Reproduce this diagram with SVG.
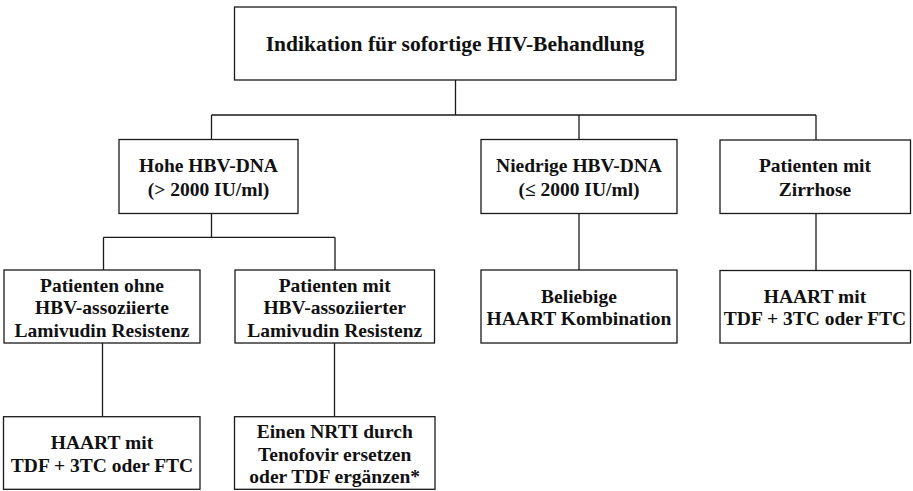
<svg xmlns="http://www.w3.org/2000/svg" width="913" height="491" viewBox="0 0 913 491">
  <style>
    .box { fill: #ffffff; stroke: #1a1a1a; stroke-width: 1.3; }
    .link { fill: none; stroke: #1a1a1a; stroke-width: 1.3; }
    .lbl { font-family: "Liberation Serif", "Times New Roman", serif; font-weight: bold; font-size: 19.5px; fill: #111111; text-anchor: middle; }
    .title { font-size: 21.5px; }
  </style>
  <rect width="913" height="491" fill="#ffffff"/>

  <!-- connectors -->
  <g id="connectors">
    <path class="link" d="M455.5,80 V115 M211.5,115 H816 M211.5,115 V139.5 M579,115 V139.5 M816,115 V140"/>
    <path class="link" d="M211.5,213.5 V237.3 M103.5,237.3 H335 M103.5,237.3 V270 M335,237.3 V270"/>
    <path class="link" d="M579,213.5 V270 M816,213.5 V270"/>
    <path class="link" d="M102.5,343 V416.7 M334.5,343 V416.7"/>
  </g>

  <!-- root -->
  <g id="root">
    <rect class="box" x="234.5" y="7" width="441.5" height="73"/>
    <text class="lbl title" x="455" y="51">Indikation für sofortige HIV-Behandlung</text>
  </g>

  <!-- second level -->
  <g id="high-dna">
    <rect class="box" x="119" y="139.5" width="179" height="74"/>
    <text class="lbl" x="208.5" y="171.5">Hohe HBV-DNA</text>
    <text class="lbl" x="208.5" y="195.5">(&gt; 2000 IU/ml)</text>
  </g>
  <g id="low-dna">
    <rect class="box" x="481" y="139.5" width="196" height="74"/>
    <text class="lbl" x="579" y="171.5">Niedrige HBV-DNA</text>
    <text class="lbl" x="579" y="195.5">(≤ 2000 IU/ml)</text>
  </g>
  <g id="cirrhosis">
    <rect class="box" x="720" y="140" width="190.5" height="73.5"/>
    <text class="lbl" x="815" y="171.5">Patienten mit</text>
    <text class="lbl" x="815" y="195.5">Zirrhose</text>
  </g>

  <!-- third level -->
  <g id="no-resistance">
    <rect class="box" x="4" y="270" width="196" height="73"/>
    <text class="lbl" x="102" y="291.7">Patienten ohne</text>
    <text class="lbl" x="102" y="314.4">HBV-assoziierte</text>
    <text class="lbl" x="102" y="337.2">Lamivudin Resistenz</text>
  </g>
  <g id="resistance">
    <rect class="box" x="235" y="270" width="199.5" height="73"/>
    <text class="lbl" x="334.7" y="291.7">Patienten mit</text>
    <text class="lbl" x="334.7" y="314.4">HBV-assoziierter</text>
    <text class="lbl" x="334.7" y="337.2">Lamivudin Resistenz</text>
  </g>
  <g id="any-haart">
    <rect class="box" x="481" y="270" width="196" height="73"/>
    <text class="lbl" x="579" y="302.7">Beliebige</text>
    <text class="lbl" x="579" y="325.2">HAART Kombination</text>
  </g>
  <g id="haart-cirrhosis">
    <rect class="box" x="720" y="270.5" width="190.5" height="72.5"/>
    <text class="lbl" x="815" y="302.7">HAART mit</text>
    <text class="lbl" x="815" y="325.2">TDF + 3TC oder FTC</text>
  </g>

  <!-- fourth level -->
  <g id="haart-no-resistance">
    <rect class="box" x="3.5" y="416.7" width="196.5" height="72.6"/>
    <text class="lbl" x="102" y="449.3">HAART mit</text>
    <text class="lbl" x="102" y="471.8">TDF + 3TC oder FTC</text>
  </g>
  <g id="replace-nrti">
    <rect class="box" x="234.5" y="416.7" width="200.5" height="72.6"/>
    <text class="lbl" x="334.7" y="437.5">Einen NRTI durch</text>
    <text class="lbl" x="334.7" y="460.5">Tenofovir ersetzen</text>
    <text class="lbl" x="334.7" y="483">oder TDF ergänzen*</text>
  </g>
</svg>
